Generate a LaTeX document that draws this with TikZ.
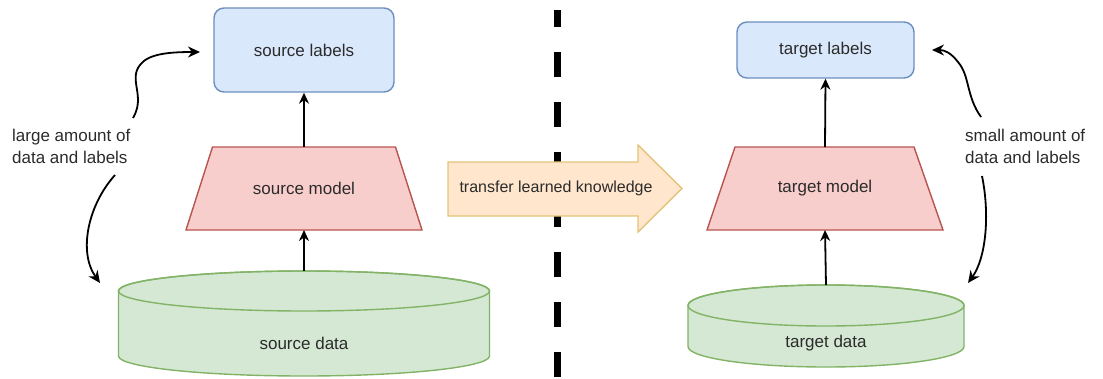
\documentclass[tikz,border=0pt]{standalone}
\usepackage{fontspec}
\setmainfont{Liberation Sans}
\usetikzlibrary{arrows.meta}

\definecolor{lblfill}{HTML}{DAE8FC}
\definecolor{lbldraw}{HTML}{6C8EBF}
\definecolor{mdlfill}{HTML}{F8CECC}
\definecolor{mdldraw}{HTML}{B85450}
\definecolor{datfill}{HTML}{D5E8D4}
\definecolor{datdraw}{HTML}{82B366}
\definecolor{xferfill}{HTML}{FFE6CC}
\definecolor{xferdraw}{HTML}{E3C37A}
\definecolor{txt}{HTML}{2B2B2B}

\begin{document}
\begin{tikzpicture} [x=1pt, y=-1pt,
  lbl/.style={draw=lbldraw, fill=lblfill, line width=1.4pt, rounded corners=10pt, text=txt, font=\fontsize{17}{20}\selectfont},
  mdl/.style={draw=mdldraw, fill=mdlfill, line width=1.4pt},
  mdltext/.style={minimum width=236pt, minimum height=83pt, outer sep=0pt, text=txt, font=\fontsize{17}{20}\selectfont},
  dat/.style={draw=datdraw, fill=datfill, line width=1.4pt},
  dattext/.style={text=txt, font=\fontsize{17}{20}\selectfont},
  note/.style={text=txt, align=left, inner sep=0pt, font=\fontsize{17}{22}\selectfont},
  flow/.style={black, line width=1.8pt, -{Stealth[length=11pt, width=10pt]}},
  curvy/.style={black, line width=1.8pt, -{Stealth[length=12pt, width=11pt]}}]
\useasboundingbox (0,0) rectangle (1103,378);

% dashed divider
\draw[black, line width=7pt, dash pattern=on 25pt off 25pt, dash phase=8pt] (557,10) -- (557,378);

% source side
\node[lbl, minimum width=180pt, minimum height=84pt] (srclabels) at (304,50) {source labels};
\filldraw[mdl] (186,230) -- (212.5,147) -- (395.5,147) -- (422,230) -- cycle;
\node[mdltext] (srcmodel) at (304,188.5) {source model};
\filldraw[dat] (118.5,291) -- (118.5,356) arc[start angle=180, end angle=0, x radius=185.5, y radius=20]
  -- (489.5,291) arc[start angle=0, end angle=-180, x radius=185.5, y radius=20] -- cycle;
\draw[dat, fill=none] (304,291) ellipse [x radius=185.5, y radius=20];
\node[dattext] (srcdata) at (304,343) {source data};
\coordinate (srcdatatop) at (304,271);

\draw[flow] (srcdatatop) -- (srcmodel.south);
\draw[flow] (srcmodel.north) -- (srclabels.south);

% target side
\node[lbl, minimum width=177pt, minimum height=56pt] (tgtlabels) at (825.5,50) {target labels};
\filldraw[mdl] (707,230) -- (735,147) -- (914,147) -- (943,230) -- cycle;
\node[mdltext] (tgtmodel) at (825,188.5) {target model};
\filldraw[dat] (688,305.5) -- (688,346.5) arc[start angle=180, end angle=0, x radius=138, y radius=20.5]
  -- (964,305.5) arc[start angle=0, end angle=-180, x radius=138, y radius=20.5] -- cycle;
\draw[dat, fill=none] (826,305.5) ellipse [x radius=138, y radius=20.5];
\node[dattext] (tgtdata) at (826,343) {target data};
\coordinate (tgtdatatop) at (826,285);

\draw[flow] (tgtdatatop) -- (tgtmodel.south);
\draw[flow] (tgtmodel.north) -- (tgtlabels.south);

% transfer arrow
\filldraw[draw=xferdraw, fill=xferfill, line width=1.4pt] (448,162) -- (638,162) -- (638,145) -- (682,188.5)
  -- (638,232) -- (638,216) -- (448,216) -- cycle;
\node[text=txt, font=\fontsize{16}{19}\selectfont] (xfer) at (556,188) {transfer learned knowledge};

% side notes
\node[note, anchor=west] (bignote) at (12,146) {large amount of\\data and labels};
\node[note, anchor=west] (smallnote) at (965,146) {small amount of\\data and labels};

\coordinate (bigup) at (133,118);
\coordinate (bigdown) at (115,175);
\coordinate (smallup) at (981,117);
\coordinate (smalldown) at (982,176);
\coordinate (srcin) at (200,52);
\coordinate (srcdatain) at (100,283);
\coordinate (tgtin) at (932,50);
\coordinate (tgtdatain) at (968,283);

\draw[curvy] (bigup) .. controls (146,96) and (128,80) .. (140,65) .. controls (148,54) and (168,52) .. (srcin);
\draw[curvy] (bigdown) .. controls (88,205) and (78,252) .. (srcdatain);
\draw[curvy] (smallup) .. controls (966,96) and (970,76) .. (958,62) .. controls (951,53) and (945,50) .. (tgtin);
\draw[curvy] (smalldown) .. controls (990,215) and (986,258) .. (tgtdatain);

\end{tikzpicture}
\end{document}
